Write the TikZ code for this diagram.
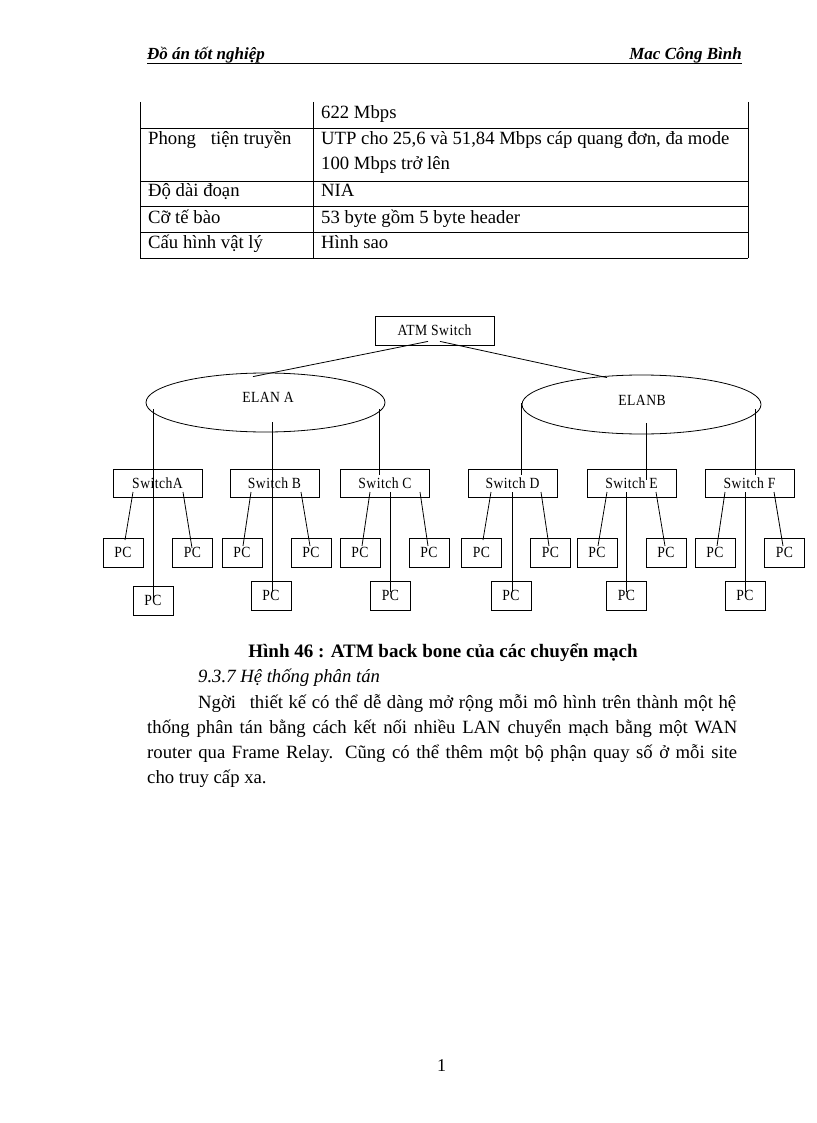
\documentclass[tikz,border=0pt]{standalone}
\usepackage{fontspec}
\setmainfont{Liberation Serif}
\newfontfamily\dgfont{Liberation Serif}[LetterSpace=3,FakeStretch=0.88]
\usetikzlibrary{shapes.geometric,calc}
\tikzset{
  tline/.style={line width=0.9pt},
  conn/.style={line width=0.8pt},
  tabtext/.style={anchor=base west, inner sep=0pt, font=\fontsize{18.7}{22}\selectfont},
  bodytext/.style={anchor=base west, inner sep=0pt, font=\fontsize{18.7}{22}\selectfont},
  hdtext/.style={inner sep=0pt, font=\bfseries\itshape\fontsize{17}{18}\selectfont},
  dtext/.style={inner sep=0pt, font=\dgfont\fontsize{15.5}{17}\selectfont},
  dbox/.style={draw, line width=0.8pt, inner sep=0pt, font=\dgfont\fontsize{15.5}{17}\selectfont},
  swbox/.style={dbox, minimum width=89pt, minimum height=28pt},
  pcbox/.style={dbox, minimum width=40pt, minimum height=29pt},
  elan/.style={draw, ellipse, line width=0.8pt, minimum width=239pt, minimum height=59pt, inner sep=0pt}
}
\begin{document}
\begin{tikzpicture}[x=1pt,y=-1pt]
\useasboundingbox[fill=white] (0,0) rectangle (816,1123);

% header
\node[hdtext, anchor=base west] (hl) at (147,60) {Đồ án tốt nghiệp};
\node[hdtext, anchor=base east] (hr) at (742,60) {Mac Công Bình};
\draw[line width=0.7pt] (147,63) -- (742,63);

% table
\draw[tline] (140,102) -- (140,258) (313,102) -- (313,258) (748,102) -- (748,258);
\foreach \yy in {128,181,206,232,258} \draw[tline] (140,\yy) -- (748,\yy);
\node[tabtext] (t1b) at (321,119) {622 Mbps};
\node[tabtext] (t2a) at (148,145) {Phong\hspace{15pt}tiện truyền};
\node[tabtext] (t2b) at (321,145) {UTP cho 25,6 và 51,84 Mbps cáp quang đơn, đa mode};
\node[tabtext] (t2c) at (321,170) {100 Mbps trở lên};
\node[tabtext] (t3a) at (148,197) {Độ dài đoạn};
\node[tabtext] (t3b) at (321,197) {NIA};
\node[tabtext] (t4a) at (148,223) {Cỡ tế bào};
\node[tabtext] (t4b) at (321,223) {53 byte gồm 5 byte header};
\node[tabtext] (t5a) at (148,248) {Cấu hình vật lý};
\node[tabtext] (t5b) at (321,248) {Hình sao};

% diagram
\node[dbox, minimum width=119pt, minimum height=29pt] (atm) at (434.5,330.5) {ATM Switch};
\node[elan] (elanA) at (265.5,402.5) {};
\node[dtext] (elanAt) at (268,397) {ELAN A};
\node[elan] (elanB) at (641.5,404.5) {};
\node[dtext] (elanBt) at (642,400) {ELANB};

\node[swbox] (swA) at (157.5,483) {SwitchA};
\node[swbox] (swB) at (274.5,483) {Switch B};
\node[swbox] (swC) at (385,483) {Switch C};
\node[swbox] (swD) at (512.5,483) {Switch D};
\node[swbox] (swE) at (631.5,483) {Switch E};
\node[swbox] (swF) at (749.5,483) {Switch F};

\node[pcbox] (pcA1) at (123,552.5) {PC};
\node[pcbox] (pcA2) at (192.5,552.5) {PC};
\node[pcbox] (pcA3) at (153,600.5) {PC};
\node[pcbox] (pcB1) at (242,552.5) {PC};
\node[pcbox] (pcB2) at (311,552.5) {PC};
\node[pcbox] (pcB3) at (271,595.5) {PC};
\node[pcbox] (pcC1) at (360,552.5) {PC};
\node[pcbox] (pcC2) at (429,552.5) {PC};
\node[pcbox] (pcC3) at (390.5,595.5) {PC};
\node[pcbox] (pcD1) at (481.5,552.5) {PC};
\node[pcbox] (pcD2) at (550.5,552.5) {PC};
\node[pcbox] (pcD3) at (511,595.5) {PC};
\node[pcbox] (pcE1) at (597,552.5) {PC};
\node[pcbox] (pcE2) at (666,552.5) {PC};
\node[pcbox] (pcE3) at (626.5,595.5) {PC};
\node[pcbox] (pcF1) at (715,552.5) {PC};
\node[pcbox] (pcF2) at (784.5,552.5) {PC};
\node[pcbox] (pcF3) at (745,595.5) {PC};

% ATM to ELANs
\draw[conn] ($(atm.south)+(-6.5,-4)$) -- ($(elanA.north)+(-12.5,4)$);
\draw[conn] ($(atm.south)+(5.5,-4)$) -- ($(elanB.north)+(-34.5,3)$);

% ELAN A to switches
\draw[conn] ($(elanA.center)+(-112.5,6.5)$) -- ($(pcA3.center)+(0,-2.5)$);
\draw[conn] ($(elanA.center)+(6.5,19.5)$) -- ($(pcB3.center)+(1,-3.5)$);
\draw[conn] ($(elanA.center)+(113.5,6.5)$) -- ($(swC.center)+(-6,-8)$);
% ELAN B to switches
\draw[conn] ($(elanB.center)+(-120.5,-1.5)$) -- ($(swD.center)+(8.5,-8)$);
\draw[conn] ($(elanB.center)+(4.5,18.5)$) -- ($(swE.center)+(14.5,-3)$);
\draw[conn] ($(elanB.center)+(113.5,4.5)$) -- ($(swF.center)+(5.5,-8)$);

% switches to bottom PCs
\draw[conn] ($(swC.center)+(5,9)$) -- ($(pcC3.center)+(-0.5,-3.5)$);
\draw[conn] ($(swD.center)+(-0.5,9)$) -- ($(pcD3.center)+(1,-3.5)$);
\draw[conn] ($(swE.center)+(-5.5,9)$) -- ($(pcE3.center)+(-0.5,-3.5)$);
\draw[conn] ($(swF.center)+(-4.5,9)$) -- ($(pcF3.center)+(0,-3.5)$);

% switches to side PCs
\draw[conn] ($(swA.center)+(-24.5,9)$) -- ($(pcA1.center)+(2,-12.5)$);
\draw[conn] ($(swA.center)+(25.5,9)$) -- ($(pcA2.center)+(-0.5,-4.5)$);
\draw[conn] ($(swB.center)+(-23.5,9)$) -- ($(pcB1.center)+(1,-6.5)$);
\draw[conn] ($(swB.center)+(26.5,9)$) -- ($(pcB2.center)+(-1,-6.5)$);
\draw[conn] ($(swC.center)+(-15,9)$) -- ($(pcC1.center)+(2,-6.5)$);
\draw[conn] ($(swC.center)+(35,9)$) -- ($(pcC2.center)+(-1,-6.5)$);
\draw[conn] ($(swD.center)+(-21.5,9)$) -- ($(pcD1.center)+(1.5,-12.5)$);
\draw[conn] ($(swD.center)+(28.5,9)$) -- ($(pcD2.center)+(-1.5,-6.5)$);
\draw[conn] ($(swE.center)+(-24.5,9)$) -- ($(pcE1.center)+(1,-6.5)$);
\draw[conn] ($(swE.center)+(24.5,9)$) -- ($(pcE2.center)+(-1,-6.5)$);
\draw[conn] ($(swF.center)+(-24.5,9)$) -- ($(pcF1.center)+(2,-6.5)$);
\draw[conn] ($(swF.center)+(24.5,9)$) -- ($(pcF2.center)+(-1.5,-6.5)$);

% caption and text
\node[anchor=base, inner sep=0pt, font=\bfseries\fontsize{19}{22}\selectfont] (cap) at (443,657) {Hình 46 : ATM back bone của các chuyển mạch};
\node[anchor=base west, inner sep=0pt, font=\itshape\fontsize{18.7}{22}\selectfont] (sec) at (198,682) {9.3.7 Hệ thống phân tán};
\node[bodytext] (p1) at (198,708) {\makebox[538pt][s]{Ngời\hspace{8pt} thiết kế có thể dễ dàng mở rộng mỗi mô hình trên thành một hệ}};
\node[bodytext] (p2) at (147,733) {\makebox[590pt][s]{thống phân tán bằng cách kết nối nhiều LAN chuyển mạch bằng một WAN}};
\node[bodytext] (p3) at (147,758) {\makebox[590pt][s]{router qua Frame Relay. Cũng có thể thêm một bộ phận quay số ở mỗi site}};
\node[bodytext] (p4) at (147,783) {cho truy cấp xa.};

\node[anchor=base, inner sep=0pt, font=\fontsize{18}{20}\selectfont] (pg) at (441.5,1071) {1};
\end{tikzpicture}
\end{document}
